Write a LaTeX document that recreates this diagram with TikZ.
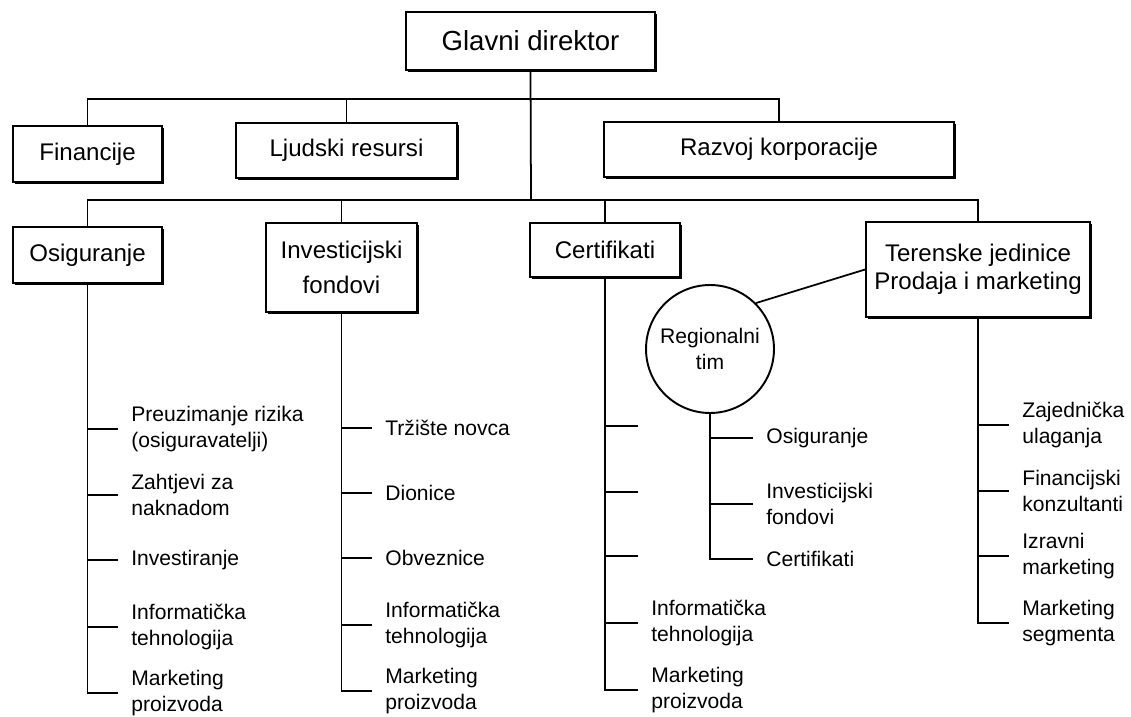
\documentclass[tikz,border=0pt]{standalone}
\usepackage{fontspec}
\setmainfont{Liberation Sans}
\usetikzlibrary{shadows}

\tikzset{
  unit/.style={draw, fill=white, line width=1.1pt, align=center, inner sep=2pt,
    font=\fontsize{13.7}{16}\selectfont,
    drop shadow={shadow xshift=1.3pt, shadow yshift=-1.3pt, fill=black, opacity=1}},
  item/.style={anchor=west, align=left, inner xsep=7.4pt, inner ysep=0pt,
    font=\fontsize{12}{15}\selectfont},
  link/.style={line width=1pt}
}

\begin{document}
\begin{tikzpicture}[x=0.02cm, y=-0.02cm]
\useasboundingbox (0,0) rectangle (1131,716);

    % Top
    \node[unit, minimum width=4.98cm, minimum height=1.16cm, font=\fontsize{15.7}{18}\selectfont] (dir) at (530.5,41) {Glavni direktor};

    % Staff
    \node[unit, minimum width=2.98cm, minimum height=1.12cm] (fin) at (87.5,154) {Financije};
    \node[unit, minimum width=4.42cm, minimum height=1.1cm] (hr) at (346.5,150.5) {Ljudski resursi};
    \node[unit, minimum width=7cm, minimum height=1.1cm] (razvoj) at (779,149.5) {Razvoj korporacije};

    % Divisions
    \node[unit, minimum width=2.98cm, minimum height=1.12cm] (osig) at (87.5,255) {Osiguranje};
    \node[unit, minimum width=3.02cm, minimum height=1.78cm] (inv) at (341.5,267.5) {Investicijski\\[4pt]fondovi};
    \node[unit, minimum width=3cm, minimum height=1.08cm] (cert) at (605,250) {Certifikati};
    \node[unit, minimum width=4.48cm, minimum height=1.9cm] (teren) at (978,269.5) {Terenske jedinice\\Prodaja i marketing};
    \node[circle, draw, line width=1.1pt, minimum size=2.56cm, align=center, inner sep=0pt,
      font=\fontsize{12}{14.7}\selectfont] (reg) at (710,349) {Regionalni\\tim};

    % Buses
    \coordinate (bus1) at (531,99);
    \coordinate (bus2) at (531,200);
    \draw[link] (dir.south) -- (bus2);
    \draw[link] (fin.north) |- (bus1) -| (razvoj.north);
    \draw[link] (hr.north) -- (hr.north |- bus1);
    \draw[link] (osig.north) |- (bus2) -| (teren.north);
    \draw[link] (inv.north) -- (inv.north |- bus2);
    \draw[link] (cert.north) -- (cert.north |- bus2);
    \draw[link] (reg.45) -- (teren.west);

    % Osiguranje
    \foreach \txt/\yy [count=\i] in {{Preuzimanje rizika\\(osiguravatelji)}/429, {Zahtjevi za\\naknadom}/495,
        Investiranje/560, {Informatička\\tehnologija}/627, {Marketing\\proizvoda}/693} {
        \node[item] (os\i) at (118,\yy) {\txt};
    }
    \draw[link] (osig.south) |- (os5.west);
    \foreach \i in {1,2,3,4} {
        \draw[link] (osig.south |- os\i.west) -- (os\i.west);
    }

    % Investicijski fondovi
    \foreach \txt/\yy [count=\i] in {Tržište novca/428, Dionice/493, Obveznice/558,
        {Informatička\\tehnologija}/625, {Marketing\\proizvoda}/691} {
        \node[item] (in\i) at (372,\yy) {\txt};
    }
    \draw[link] (inv.south) |- (in5.west);
    \foreach \i in {1,2,3,4} {
        \draw[link] (inv.south |- in\i.west) -- (in\i.west);
    }

    % Certifikati
    \coordinate (ce1) at (638,426);
    \coordinate (ce2) at (638,492);
    \coordinate (ce3) at (638,556);
    \node[item] (ce4) at (638,623) {Informatička\\tehnologija};
    \node[item] (ce5) at (638,690) {Marketing\\proizvoda};
    \draw[link] (cert.south) |- (ce5.west);
    \foreach \i in {1,2,3,4} {
        \draw[link] (cert.south |- ce\i) -- (ce\i.west);
    }

    % Regionalni tim
    \foreach \txt/\yy [count=\i] in {Osiguranje/438, {Investicijski\\fondovi}/504, Certifikati/559} {
        \node[item] (rt\i) at (753,\yy) {\txt};
    }
    \draw[link] (reg.south) |- (rt3.west);
    \foreach \i in {1,2} {
        \draw[link] (reg.south |- rt\i.west) -- (rt\i.west);
    }

    % Terenske jedinice
    \foreach \txt/\yy [count=\i] in {{Zajednička\\ulaganja}/425, {Financijski\\konzultanti}/491,
        {Izravni\\marketing}/556, {Marketing\\segmenta}/623} {
        \node[item] (tj\i) at (1009,\yy) {\txt};
    }
    \draw[link] (teren.south) |- (tj4.west);
    \foreach \i in {1,2,3} {
        \draw[link] (teren.south |- tj\i.west) -- (tj\i.west);
    }
\end{tikzpicture}
\end{document}
